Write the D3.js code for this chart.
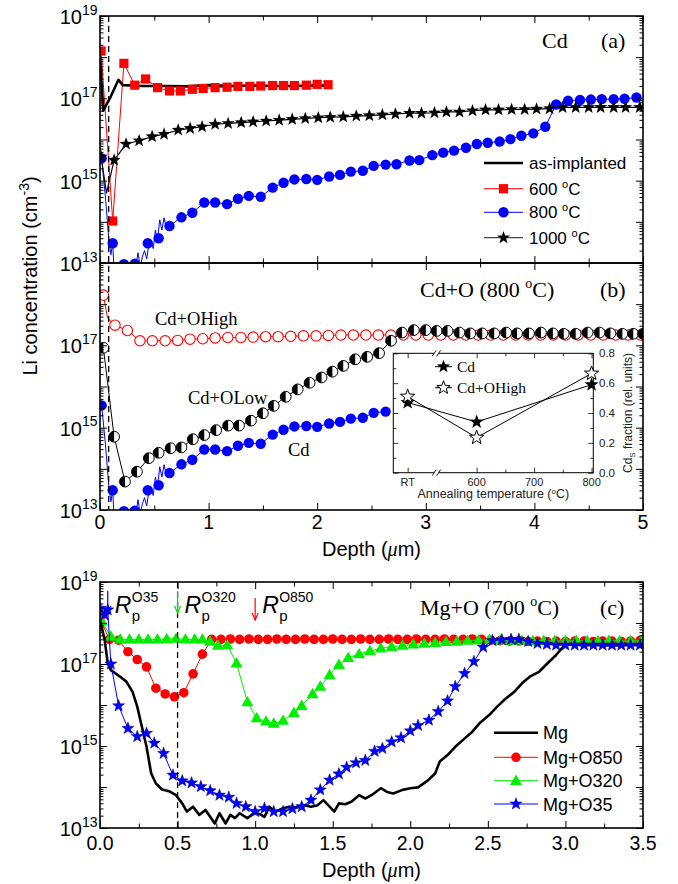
<!DOCTYPE html>
<html><head><meta charset="utf-8">
<script src="https://cdn.jsdelivr.net/npm/d3@7"></script>
<style>body{margin:0;background:#fff}</style>
</head><body>
<script>
// ===== DATA (depth in µm, value = log10 of Li concentration in cm^-3) =====
// Panel (a): Cd implanted
const cdAsImplanted = [[0,18.0],[0.03,16.7],[0.1,17.05],[0.17,17.45],[0.21,17.32],[0.4,17.3],[0.6,17.3],[0.8,17.29],[1.0,17.32],[1.2,17.3],[1.4,17.31],[1.6,17.3],[1.8,17.3],[2.0,17.31],[2.12,17.3]];
const cd600 = [[0.01,18.15],[0.117,14.02],[0.22,17.85],[0.32,17.32],[0.42,17.47],[0.53,17.26],[0.64,17.18],[0.74,17.18],[0.85,17.22],[0.95,17.24],[1.06,17.26],[1.17,17.27],[1.27,17.29],[1.38,17.29],[1.48,17.3],[1.59,17.31],[1.69,17.31],[1.79,17.31],[1.9,17.32],[2.0,17.34],[2.1,17.33]];
const cd800Raw = [[0.015,15.54],[0.05,14.6],[0.08,13.6],[0.1,13.2],[0.117,13.48],[0.13,12.8],[0.15,12.95],[0.17,12.7],[0.19,13.02],[0.21,12.8],[0.23,12.92],[0.25,12.75],[0.27,12.95],[0.29,12.8],[0.31,13.02],[0.33,12.9],[0.35,13.25],[0.37,12.9],[0.39,13.15],[0.41,13.3],[0.43,13.1],[0.45,13.45],[0.47,13.55],[0.49,13.35],[0.51,13.8],[0.53,13.55],[0.55,14.05],[0.57,13.8],[0.59,14.1],[0.61,13.85],[0.64,13.9]];
const cd800 = [[0.015,15.54],[0.117,13.48],[0.22,12.97],[0.32,12.98],[0.44,13.48],[0.54,13.6],[0.64,13.9],[0.75,14.11],[0.85,14.22],[0.96,14.47],[1.06,14.47],[1.17,14.43],[1.27,14.56],[1.37,14.63],[1.48,14.61],[1.59,14.83],[1.69,14.95],[1.79,15.03],[1.9,15.04],[2.0,15.02],[2.11,15.1],[2.21,15.14],[2.31,15.22],[2.42,15.24],[2.52,15.36],[2.63,15.39],[2.73,15.4],[2.85,15.49],[2.94,15.5],[3.06,15.62],[3.16,15.68],[3.26,15.73],[3.37,15.8],[3.47,15.89],[3.57,15.92],[3.68,15.95],[3.78,16.01],[3.88,16.09],[3.99,16.15],[4.1,16.31],[4.2,16.85],[4.31,16.94],[4.42,16.96],[4.52,16.97],[4.62,16.98],[4.73,16.98],[4.83,16.99],[4.94,17.02]];
const cd1000Dip = [0.06,14.7];
const cd1000 = [[0.01,15.58],[0.13,15.5],[0.24,15.89],[0.36,15.97],[0.48,16.07],[0.59,16.13],[0.72,16.23],[0.83,16.27],[0.94,16.31],[1.06,16.37],[1.18,16.39],[1.3,16.41],[1.41,16.43],[1.53,16.45],[1.65,16.47],[1.77,16.49],[1.89,16.51],[2.01,16.53],[2.12,16.54],[2.24,16.55],[2.36,16.57],[2.48,16.58],[2.6,16.6],[2.72,16.62],[2.85,16.64],[2.96,16.64],[3.08,16.65],[3.19,16.67],[3.31,16.67],[3.43,16.7],[3.55,16.72],[3.67,16.72],[3.79,16.73],[3.91,16.73],[4.02,16.74],[4.14,16.75],[4.26,16.78],[4.38,16.78],[4.5,16.78],[4.61,16.78],[4.73,16.78],[4.84,16.78],[4.97,16.78]];
// Panel (b): Cd+O, 800 C
const cdOHighKink = [0.07,17.66];
const cdOHigh = [[0.031,18.22],[0.138,17.49],[0.252,17.36],[0.368,17.11],[0.482,17.11],[0.6,17.11],[0.715,17.12],[0.829,17.15],[0.946,17.16],[1.06,17.18],[1.177,17.19],[1.297,17.19],[1.41,17.2],[1.525,17.21],[1.64,17.21],[1.756,17.22],[1.873,17.23],[1.99,17.23],[2.103,17.24],[2.218,17.25],[2.333,17.25],[2.448,17.25],[2.563,17.25],[2.678,17.25],[2.793,17.25],[2.908,17.25],[3.023,17.25],[3.138,17.25],[3.253,17.25],[3.368,17.25],[3.483,17.25],[3.598,17.25],[3.713,17.25],[3.828,17.25],[3.943,17.25],[4.058,17.25],[4.173,17.25],[4.288,17.25],[4.403,17.25],[4.518,17.25],[4.633,17.25],[4.748,17.25],[4.863,17.25],[4.978,17.25]];
const cdOLow = [[0.031,16.94],[0.13,14.78],[0.23,13.69],[0.34,13.93],[0.45,14.26],[0.54,14.39],[0.65,14.5],[0.75,14.52],[0.855,14.72],[0.96,14.82],[1.07,14.94],[1.18,15.05],[1.28,15.05],[1.39,15.17],[1.5,15.35],[1.6,15.53],[1.71,15.75],[1.82,15.93],[1.93,16.09],[2.04,16.22],[2.14,16.36],[2.24,16.5],[2.35,16.66],[2.46,16.72],[2.57,16.81],[2.68,17.11],[2.78,17.31],[2.89,17.37],[3.0,17.37],[3.1,17.35],[3.2,17.35],[3.31,17.31],[3.41,17.29],[3.52,17.29],[3.63,17.29],[3.74,17.31],[3.84,17.29],[3.95,17.29],[4.06,17.31],[4.17,17.29],[4.27,17.28],[4.38,17.28],[4.49,17.31],[4.6,17.31],[4.7,17.29],[4.81,17.28],[4.91,17.28],[5.0,17.28]];
const cdMaxDepthB = 2.64;
// Inset: Cd_S fraction
const insetCats = ["RT","600","800"];
const insetPos = [480,600,800];
const insetCd = [0.47,0.34,0.59];
const insetCdOHigh = [0.51,0.235,0.665];
const insetTickLabels = ["RT","600","700","800"];
const insetTickPos = [480,600,700,800];
// Panel (c): Mg+O, 700 C
const mgLine = [[0,18.07],[0.03,17.59],[0.05,17.02],[0.07,16.85],[0.13,16.69],[0.17,16.57],[0.21,16.32],[0.24,15.96],[0.27,15.47],[0.3,14.98],[0.33,14.33],[0.36,14.09],[0.4,13.94],[0.45,13.89],[0.49,13.8],[0.53,13.6],[0.56,13.4],[0.6,13.52],[0.64,13.32],[0.68,13.44],[0.74,13.11],[0.77,13.36],[0.81,13.11],[0.84,13.32],[0.87,13.24],[0.9,13.36],[0.95,13.24],[0.99,13.36],[1.03,13.34],[1.06,13.27],[1.09,13.52],[1.13,13.4],[1.18,13.48],[1.22,13.52],[1.27,13.5],[1.31,13.56],[1.36,13.52],[1.4,13.55],[1.44,13.68],[1.48,13.52],[1.51,13.4],[1.54,13.6],[1.58,13.58],[1.62,13.64],[1.67,13.8],[1.71,13.72],[1.75,13.8],[1.81,13.97],[1.85,13.88],[1.89,13.84],[1.95,13.93],[2.0,13.97],[2.05,13.99],[2.11,14.15],[2.16,14.33],[2.19,14.62],[2.24,14.78],[2.29,14.98],[2.34,15.15],[2.4,15.35],[2.45,15.57],[2.51,15.76],[2.56,15.96],[2.61,16.14],[2.67,16.32],[2.72,16.53],[2.77,16.69],[2.83,16.81],[2.88,17.0],[2.94,17.22],[2.99,17.44],[3.02,17.48],[3.1,17.46],[3.2,17.46],[3.3,17.45],[3.4,17.46],[3.5,17.46]];
const mgO850 = [[0,18.11],[0.06,17.6],[0.12,17.58],[0.18,17.3],[0.24,17.11],[0.3,16.93],[0.36,16.41],[0.42,16.27],[0.48,16.2],[0.54,16.3],[0.6,16.76],[0.66,17.24],[0.72,17.6],[0.78,17.6],[0.84,17.61],[0.9,17.6],[0.96,17.61],[1.02,17.6],[1.08,17.6],[1.14,17.61],[1.2,17.6],[1.26,17.6],[1.32,17.61],[1.38,17.6],[1.44,17.6],[1.5,17.61],[1.56,17.6],[1.62,17.6],[1.68,17.61],[1.74,17.6],[1.8,17.6],[1.86,17.61],[1.92,17.6],[1.98,17.6],[2.04,17.61],[2.1,17.6],[2.16,17.6],[2.22,17.61],[2.28,17.6],[2.34,17.6],[2.4,17.61],[2.46,17.6],[2.52,17.58],[2.58,17.57],[2.64,17.56],[2.7,17.56],[2.76,17.55],[2.82,17.56],[2.88,17.55],[2.94,17.56],[3.0,17.55],[3.06,17.56],[3.12,17.56],[3.18,17.55],[3.24,17.56],[3.3,17.56],[3.36,17.55],[3.42,17.56],[3.48,17.57]];
const mgO320 = [[0.01,18.05],[0.07,17.67],[0.13,17.6],[0.19,17.6],[0.25,17.6],[0.31,17.6],[0.37,17.6],[0.43,17.61],[0.49,17.62],[0.55,17.6],[0.61,17.6],[0.66,17.6],[0.71,17.55],[0.76,17.45],[0.82,17.46],[0.88,17.02],[0.95,16.07],[1.01,15.68],[1.07,15.6],[1.12,15.55],[1.18,15.62],[1.25,15.81],[1.3,15.98],[1.37,16.27],[1.42,16.45],[1.48,16.73],[1.54,16.98],[1.6,17.15],[1.67,17.24],[1.74,17.32],[1.81,17.38],[1.88,17.42],[1.95,17.45],[2.02,17.48],[2.09,17.5],[2.16,17.52],[2.23,17.54],[2.3,17.55],[2.37,17.57],[2.44,17.58],[2.51,17.59],[2.58,17.58],[2.65,17.57],[2.72,17.57],[2.79,17.56],[2.86,17.57],[2.93,17.56],[3.0,17.56],[3.07,17.57],[3.14,17.56],[3.21,17.56],[3.28,17.57],[3.35,17.56],[3.42,17.56],[3.49,17.57]];
const mgO35 = [[0,18.36],[0.03,18.2],[0.05,18.32],[0.07,17.0],[0.12,15.98],[0.18,15.43],[0.24,15.23],[0.3,15.31],[0.35,15.07],[0.41,14.82],[0.47,14.29],[0.53,14.15],[0.59,14.1],[0.65,14.01],[0.71,13.91],[0.77,13.8],[0.83,13.75],[0.88,13.6],[0.94,13.52],[1.0,13.4],[1.06,13.48],[1.12,13.4],[1.18,13.4],[1.24,13.47],[1.3,13.52],[1.36,13.68],[1.42,13.93],[1.48,14.17],[1.54,14.32],[1.59,14.48],[1.65,14.59],[1.71,14.65],[1.77,14.87],[1.82,14.94],[1.88,15.1],[1.94,15.2],[2.0,15.37],[2.05,15.5],[2.12,15.63],[2.18,15.84],[2.24,16.1],[2.29,16.45],[2.35,16.77],[2.41,17.06],[2.47,17.41],[2.53,17.57],[2.59,17.59],[2.65,17.6],[2.7,17.6],[2.76,17.55],[2.82,17.5],[2.88,17.48],[2.94,17.46],[3.0,17.46],[3.06,17.46],[3.12,17.46],[3.18,17.46],[3.24,17.46],[3.3,17.46],[3.36,17.46],[3.42,17.46],[3.48,17.46]];
const rpDepths = [0.05,0.5,1.0];
const rpLabels = ["O35","O320","O850"];
const rpColors = ["#0000ff","#00dd00","#ff0000"];
const dashDepthAB = 0.08, dashDepthC = 0.5;
const xTicksAB = [0,1,2,3,4,5];
const xTicksC = [0,0.5,1,1.5,2,2.5,3,3.5];
const yLabelExps = [13,15,17,19];

// ===== SETUP =====
const W=678,H=884;
const SANS="'Liberation Sans', Arial, Helvetica, sans-serif";
const SERIF="'Liberation Serif','Times New Roman', serif";
const RED="#ff0000", BLUE="#0000ff", GREEN="#00ee00";
const svg=d3.select("body").append("svg").attr("width",W).attr("height",H).style("background","#fff");
const P=v=>Math.pow(10,v);

const xAB=d3.scaleLinear().domain([0,5]).range([100,643]);
const xC=d3.scaleLinear().domain([0,3.5]).range([100,643]);
const yA=d3.scaleLog().domain([1e13,1e19]).range([263,16]);
const yB=d3.scaleLog().domain([1e13,1e19]).range([510,263]);
const yC=d3.scaleLog().domain([1e13,1e19]).range([828,582]);

const defs=svg.append("defs");
function clip(id,x,y,w,h){defs.append("clipPath").attr("id",id).append("rect").attr("x",x).attr("y",y).attr("width",w).attr("height",h);}
clip("cA",100,16,543,247); clip("cB",100,263,543,247); clip("cC",100,582,543,246);

function starPath(R,r){let p="";for(let i=0;i<10;i++){const a=-Math.PI/2+i*Math.PI/5;const rad=i%2?r:R;p+=(i?"L":"M")+(rad*Math.cos(a)).toFixed(2)+","+(rad*Math.sin(a)).toFixed(2);}return p+"Z";}
const triPath="M0,-6.2L6,4.2L-6,4.2Z";

function line(g,data,x,y,color,w){
  g.append("path").datum(data).attr("fill","none").attr("stroke",color).attr("stroke-width",w).attr("stroke-linejoin","round")
   .attr("d",d3.line().x(d=>x(d[0])).y(d=>y(P(d[1]))));
}
function marks(g,data,x,y,kind){
  const s=g.selectAll(null).data(data).enter();
  if(kind==="square") s.append("rect").attr("x",d=>x(d[0])-4.6).attr("y",d=>y(P(d[1]))-4.6).attr("width",9.2).attr("height",9.2).attr("fill",RED);
  if(kind==="bcircle") s.append("circle").attr("cx",d=>x(d[0])).attr("cy",d=>y(P(d[1]))).attr("r",5.2).attr("fill",BLUE);
  if(kind==="rcircle") s.append("circle").attr("cx",d=>x(d[0])).attr("cy",d=>y(P(d[1]))).attr("r",4.8).attr("fill",RED);
  if(kind==="star") s.append("path").attr("transform",d=>`translate(${x(d[0])},${y(P(d[1]))})`).attr("d",starPath(6.8,2.8)).attr("fill","#000");
  if(kind==="bstar") s.append("path").attr("transform",d=>`translate(${x(d[0])},${y(P(d[1]))})`).attr("d",starPath(6.3,2.6)).attr("fill",BLUE).attr("stroke","#000080").attr("stroke-width",0.5);
  if(kind==="tri") s.append("path").attr("transform",d=>`translate(${x(d[0])},${y(P(d[1]))})`).attr("d",triPath).attr("fill",GREEN);
  if(kind==="open") s.append("circle").attr("cx",d=>x(d[0])).attr("cy",d=>y(P(d[1]))).attr("r",5.2).attr("fill","#fff").attr("stroke",RED).attr("stroke-width",1.1);
  if(kind==="half"){
    const gg=s.append("g").attr("transform",d=>`translate(${x(d[0])},${y(P(d[1]))})`);
    gg.append("circle").attr("r",5.4).attr("fill","#fff").attr("stroke","#000").attr("stroke-width",1);
    gg.append("path").attr("d","M0,-5.4A5.4,5.4 0 0,0 0,5.4Z").attr("fill","#000");
  }
}

// ===== AXES HELPERS =====
function logTicks(){const maj=[],min=[];for(let e=13;e<=19;e++){maj.push(P(e));if(e<19)for(let k=2;k<=9;k++)min.push(k*P(e));}return {maj,min};}
const LT=logTicks();
function yAxes(y){
  const g=svg.append("g").attr("class","yax");
  g.append("g").attr("transform","translate(100,0)").call(d3.axisLeft(y).tickValues(LT.maj).tickSize(-7).tickFormat(""));
  g.append("g").attr("transform","translate(100,0)").call(d3.axisLeft(y).tickValues(LT.min).tickSize(-3.5).tickFormat(""));
  g.append("g").attr("transform","translate(643,0)").call(d3.axisRight(y).tickValues(LT.maj).tickSize(-7).tickFormat(""));
  g.append("g").attr("transform","translate(643,0)").call(d3.axisRight(y).tickValues(LT.min).tickSize(-3.5).tickFormat(""));
  g.selectAll(".domain").remove();
}
function xAxes(x,yTop,yBot,maj,min){
  const g=svg.append("g");
  [[d3.axisBottom,yBot],[d3.axisTop,yTop]].forEach(([ax,yy])=>{
    g.append("g").attr("transform",`translate(0,${yy})`).call(ax(x).tickValues(maj).tickSize(-7).tickFormat(""));
    g.append("g").attr("transform",`translate(0,${yy})`).call(ax(x).tickValues(min).tickSize(-4.5).tickFormat(""));
  });
  g.selectAll(".domain").remove();
}
function yLabels(y,exps){
  exps.forEach(e=>{
    const yy=y(P(e));
    svg.append("text").attr("x",82).attr("y",yy+8).attr("text-anchor","end").attr("font-family",SANS).attr("font-size",20).text("10");
    svg.append("text").attr("x",82).attr("y",yy-1.5).attr("font-family",SANS).attr("font-size",14).text(String(e));
  });
}
function frame(x,y,w,h){svg.append("rect").attr("x",x).attr("y",y).attr("width",w).attr("height",h).attr("fill","none").attr("stroke","#000").attr("stroke-width",1.6);}
function supText(x,y,pre,sup,post,font,size,supSize,anchor){
  const t=svg.append("text").attr("x",x).attr("y",y).attr("font-family",font).attr("font-size",size);
  if(anchor) t.attr("text-anchor",anchor);
  t.append("tspan").text(pre);
  t.append("tspan").attr("dy",-size*0.42).attr("font-size",supSize).text(sup);
  t.append("tspan").attr("dy",size*0.42).text(post);
  return t;
}

// ===== PANEL A =====
const gA=svg.append("g").attr("clip-path","url(#cA)");
line(gA,cd800Raw.concat(cd800.filter(d=>d[0]>0.64)),xAB,yA,BLUE,1);
line(gA,[cd1000[0],cd1000Dip].concat(cd1000.slice(1)),xAB,yA,"#000",1.2);
line(gA,cd600,xAB,yA,RED,1);
line(gA,cdAsImplanted,xAB,yA,"#000",2.6);
marks(gA,cd800,xAB,yA,"bcircle");
marks(gA,cd1000,xAB,yA,"star");
marks(gA,cd600,xAB,yA,"square");

// ===== PANEL B =====
const gB=svg.append("g").attr("clip-path","url(#cB)");
const cdB=cd800.filter(d=>d[0]<=cdMaxDepthB);
line(gB,cd800Raw.concat(cdB.filter(d=>d[0]>0.64)),xAB,yB,BLUE,1);
line(gB,[cdOHigh[0],cdOHighKink].concat(cdOHigh.slice(1)),xAB,yB,RED,1);
marks(gB,cdOHigh,xAB,yB,"open");
line(gB,cdOLow,xAB,yB,"#000",1);
marks(gB,cdB,xAB,yB,"bcircle");
marks(gB,cdOLow,xAB,yB,"half");

// dashed line a/b
svg.append("line").attr("x1",xAB(dashDepthAB)).attr("x2",xAB(dashDepthAB)).attr("y1",16).attr("y2",510).attr("stroke","#000").attr("stroke-width",1.3).attr("stroke-dasharray","6,4");

yAxes(yA); yAxes(yB);
xAxes(xAB,16,263,xTicksAB,[0.5,1.5,2.5,3.5,4.5]);
xAxes(xAB,263,510,xTicksAB,[0.5,1.5,2.5,3.5,4.5]);
frame(100,16,543,247); frame(100,263,543,247);
yLabels(yA,yLabelExps);
yLabels(yB,[13,15,17]);
xTicksAB.forEach(v=>svg.append("text").attr("x",xAB(v)).attr("y",529).attr("text-anchor","middle").attr("font-family",SANS).attr("font-size",19.5).text(String(v)));
function depthTitle(y){
  const t=svg.append("text").attr("x",371.5).attr("y",y).attr("text-anchor","middle").attr("font-family",SANS).attr("font-size",20);
  t.append("tspan").text("Depth (");
  t.append("tspan").attr("font-family",SERIF).attr("font-style","italic").text("μ");
  t.append("tspan").text("m)");
}
depthTitle(556);
// y title
{
  const t=svg.append("text").attr("transform","translate(37,276) rotate(-90)").attr("text-anchor","middle").attr("font-family",SANS).attr("font-size",20);
  t.append("tspan").text("Li concentration (cm");
  t.append("tspan").attr("dy",-8).attr("font-size",14).text("-3");
  t.append("tspan").attr("dy",8).text(")");
}
// panel a labels
svg.append("text").attr("x",542).attr("y",48).attr("font-family",SERIF).attr("font-size",22).text("Cd");
svg.append("text").attr("x",601).attr("y",48).attr("font-family",SERIF).attr("font-size",22).text("(a)");
// legend a
{
  const lx1=484,lx2=523,mx=503.5,tx=529,rows=[163,188.7,212.3,237.7];
  const gL=svg.append("g");
  gL.append("line").attr("x1",lx1).attr("x2",lx2).attr("y1",rows[0]).attr("y2",rows[0]).attr("stroke","#000").attr("stroke-width",2.6);
  gL.append("line").attr("x1",lx1).attr("x2",lx2).attr("y1",rows[1]).attr("y2",rows[1]).attr("stroke",RED).attr("stroke-width",1);
  gL.append("rect").attr("x",mx-4.6).attr("y",rows[1]-4.6).attr("width",9.2).attr("height",9.2).attr("fill",RED);
  gL.append("line").attr("x1",lx1).attr("x2",lx2).attr("y1",rows[2]).attr("y2",rows[2]).attr("stroke",BLUE).attr("stroke-width",1);
  gL.append("circle").attr("cx",mx).attr("cy",rows[2]).attr("r",5.2).attr("fill",BLUE);
  gL.append("line").attr("x1",lx1).attr("x2",lx2).attr("y1",rows[3]).attr("y2",rows[3]).attr("stroke","#444").attr("stroke-width",1.2);
  gL.append("path").attr("transform",`translate(${mx},${rows[3]})`).attr("d",starPath(6.8,2.8)).attr("fill","#000");
  svg.append("text").attr("x",tx).attr("y",rows[0]+6).attr("font-family",SANS).attr("font-size",17).text("as-implanted");
  supText(tx,rows[1]+6,"600 ","o","C",SANS,17,11);
  supText(tx,rows[2]+6,"800 ","o","C",SANS,17,11);
  supText(tx,rows[3]+6,"1000 ","o","C",SANS,17,11);
}
// panel b labels
supText(420,297,"Cd+O (800 ","o","C)",SERIF,22,14);
svg.append("text").attr("x",600).attr("y",297).attr("font-family",SERIF).attr("font-size",22).text("(b)");
svg.append("text").attr("x",155).attr("y",325).attr("font-family",SERIF).attr("font-size",18.5).text("Cd+OHigh");
svg.append("text").attr("x",188).attr("y",404).attr("font-family",SERIF).attr("font-size",18.5).text("Cd+OLow");
svg.append("text").attr("x",288).attr("y",456).attr("font-family",SERIF).attr("font-size",18.5).text("Cd");

// ===== INSET =====
{
  const L=393.3,R=593.3,T=353.3,B=472.7;
  const xI=d3.scaleLinear().domain([455,803]).range([L,R]);
  const yI=d3.scaleLinear().domain([0,0.8]).range([B,T]);
  const g=svg.append("g");
  g.append("rect").attr("x",L).attr("y",T).attr("width",R-L).attr("height",B-T).attr("fill","#fff");
  const axG=g.append("g").attr("color","#000");
  axG.append("g").attr("transform",`translate(0,${B})`).call(d3.axisBottom(xI).tickValues(insetTickPos).tickSize(-5).tickFormat(""));
  axG.append("g").attr("transform",`translate(0,${B})`).call(d3.axisBottom(xI).tickValues([650,750]).tickSize(-3).tickFormat(""));
  axG.append("g").attr("transform",`translate(0,${T})`).call(d3.axisTop(xI).tickValues(insetTickPos).tickSize(-5).tickFormat(""));
  axG.append("g").attr("transform",`translate(0,${T})`).call(d3.axisTop(xI).tickValues([650,750]).tickSize(-3).tickFormat(""));
  axG.append("g").attr("transform",`translate(${L},0)`).call(d3.axisLeft(yI).tickValues([0,0.2,0.4,0.6,0.8]).tickSize(-5).tickFormat(""));
  axG.append("g").attr("transform",`translate(${L},0)`).call(d3.axisLeft(yI).tickValues([0.1,0.3,0.5,0.7]).tickSize(-3).tickFormat(""));
  axG.append("g").attr("transform",`translate(${R},0)`).call(d3.axisRight(yI).tickValues([0,0.2,0.4,0.6,0.8]).tickSize(-5).tickFormat(""));
  axG.append("g").attr("transform",`translate(${R},0)`).call(d3.axisRight(yI).tickValues([0.1,0.3,0.5,0.7]).tickSize(-3).tickFormat(""));
  axG.selectAll(".domain").remove();
  axG.selectAll("line").attr("stroke-width",0.8);
  g.append("rect").attr("x",L).attr("y",T).attr("width",R-L).attr("height",B-T).attr("fill","none").attr("stroke","#000").attr("stroke-width",1);
  // axis breaks
  const bx=xI(530);
  [T,B].forEach(yy=>{
    g.append("rect").attr("x",bx-2.5).attr("y",yy-2).attr("width",5).attr("height",4).attr("fill","#fff");
    [-2.2,2.2].forEach(o=>g.append("line").attr("x1",bx+o-2).attr("x2",bx+o+2).attr("y1",yy+3).attr("y2",yy-3).attr("stroke","#000").attr("stroke-width",0.9));
  });
  const lp=(vals)=>insetPos.map((p,i)=>[p,vals[i]]);
  const ln=d3.line().x(d=>xI(d[0])).y(d=>yI(d[1]));
  g.append("path").attr("d",ln(lp(insetCd))).attr("fill","none").attr("stroke","#000").attr("stroke-width",1);
  g.append("path").attr("d",ln(lp(insetCdOHigh))).attr("fill","none").attr("stroke","#000").attr("stroke-width",1);
  lp(insetCd).forEach(d=>g.append("path").attr("transform",`translate(${xI(d[0])},${yI(d[1])})`).attr("d",starPath(7.5,3.1)).attr("fill","#000"));
  lp(insetCdOHigh).forEach(d=>g.append("path").attr("transform",`translate(${xI(d[0])},${yI(d[1])})`).attr("d",starPath(7.5,3.1)).attr("fill","#fff").attr("stroke","#000").attr("stroke-width",1));
  // legend
  [[366.7,"#000","Cd"],[387.7,"#fff","Cd+OHigh"]].forEach(([yy,f,lab])=>{
    g.append("line").attr("x1",435).attr("x2",452).attr("y1",yy).attr("y2",yy).attr("stroke","#000").attr("stroke-width",1);
    g.append("path").attr("transform",`translate(443.5,${yy})`).attr("d",starPath(7,2.9)).attr("fill",f).attr("stroke","#000").attr("stroke-width",f==="#fff"?1:0);
    g.append("text").attr("x",457).attr("y",yy+5).attr("font-family",SERIF).attr("font-size",15.5).text(lab);
  });
  insetTickLabels.forEach((lab,i)=>g.append("text").attr("x",xI(insetTickPos[i])).attr("y",485.5).attr("text-anchor","middle").attr("font-family",SANS).attr("font-size",11).attr("fill","#222").text(lab));
  [0,0.2,0.4,0.6,0.8].forEach(v=>g.append("text").attr("x",599).attr("y",yI(v)+4).attr("font-family",SANS).attr("font-size",11.5).attr("fill","#222").text(v.toFixed(1)));
  const at=g.append("text").attr("x",493.3).attr("y",498).attr("text-anchor","middle").attr("font-family",SANS).attr("font-size",12.5).attr("fill","#222");
  at.append("tspan").text("Annealing temperature (");
  at.append("tspan").attr("dy",-4).attr("font-size",8).text("o");
  at.append("tspan").attr("dy",4).text("C)");
  const rt=g.append("text").attr("transform","translate(632,413) rotate(-90)").attr("text-anchor","middle").attr("font-family",SANS).attr("font-size",12).attr("fill","#222");
  rt.append("tspan").text("Cd");
  rt.append("tspan").attr("dy",3).attr("font-size",8).text("S");
  rt.append("tspan").attr("dy",-3).text(" fraction (rel. units)");
}

// ===== PANEL C =====
const gC=svg.append("g").attr("clip-path","url(#cC)");
line(gC,mgO850,xC,yC,RED,1);
marks(gC,mgO850,xC,yC,"rcircle");
line(gC,mgO320,xC,yC,GREEN,1);
marks(gC,mgO320,xC,yC,"tri");
line(gC,mgLine,xC,yC,"#000",2.6);
line(gC,mgO35,xC,yC,BLUE,1);
marks(gC,mgO35,xC,yC,"bstar");
svg.append("line").attr("x1",xC(dashDepthC)).attr("x2",xC(dashDepthC)).attr("y1",582).attr("y2",828).attr("stroke","#000").attr("stroke-width",1.3).attr("stroke-dasharray","6,4");
yAxes(yC);
xAxes(xC,582,828,xTicksC,[0.25,0.75,1.25,1.75,2.25,2.75,3.25]);
frame(100,582,543,246);
yLabels(yC,yLabelExps);
xTicksC.forEach(v=>svg.append("text").attr("x",xC(v)).attr("y",850).attr("text-anchor","middle").attr("font-family",SANS).attr("font-size",19.5).text(v.toFixed(1)));
depthTitle(877);
supText(420,615,"Mg+O (700 ","o","C)",SERIF,22,14);
svg.append("text").attr("x",600).attr("y",615).attr("font-family",SERIF).attr("font-size",22).text("(c)");
// Rp arrows
rpDepths.forEach((d,i)=>{
  const x=xC(d), c=rpColors[i];
  const y1=i===2?598:591, y2=i===2?620:613;
  svg.append("line").attr("x1",x).attr("x2",x).attr("y1",y1).attr("y2",y2).attr("stroke",c).attr("stroke-width",1.2);
  svg.append("path").attr("d",`M${x-3},${y2-7}L${x},${y2}L${x+3},${y2-7}`).attr("fill","none").attr("stroke",c).attr("stroke-width",1.2);
  const tx=x+7;
  svg.append("text").attr("x",tx).attr("y",613).attr("font-family",SANS).attr("font-style","italic").attr("font-size",23).text("R");
  svg.append("text").attr("x",tx+17).attr("y",621).attr("font-family",SANS).attr("font-size",15).text("p");
  svg.append("text").attr("x",tx+17).attr("y",602).attr("font-family",SANS).attr("font-size",14).text(rpLabels[i]);
});
// legend c
{
  const lx1=494,lx2=538,mx=516,tx=543,rows=[732.7,757.3,780.7,804];
  const names=["Mg","Mg+O850","Mg+O320","Mg+O35"];
  svg.append("line").attr("x1",lx1).attr("x2",lx2).attr("y1",rows[0]).attr("y2",rows[0]).attr("stroke","#000").attr("stroke-width",2.6);
  svg.append("line").attr("x1",lx1).attr("x2",lx2).attr("y1",rows[1]).attr("y2",rows[1]).attr("stroke",RED).attr("stroke-width",1);
  svg.append("circle").attr("cx",mx).attr("cy",rows[1]).attr("r",4.8).attr("fill",RED);
  svg.append("line").attr("x1",lx1).attr("x2",lx2).attr("y1",rows[2]).attr("y2",rows[2]).attr("stroke",GREEN).attr("stroke-width",1);
  svg.append("path").attr("transform",`translate(${mx},${rows[2]})`).attr("d",triPath).attr("fill",GREEN);
  svg.append("line").attr("x1",lx1).attr("x2",lx2).attr("y1",rows[3]).attr("y2",rows[3]).attr("stroke",BLUE).attr("stroke-width",1);
  svg.append("path").attr("transform",`translate(${mx},${rows[3]})`).attr("d",starPath(6.3,2.6)).attr("fill",BLUE).attr("stroke","#000080").attr("stroke-width",0.5);
  names.forEach((n,i)=>svg.append("text").attr("x",tx).attr("y",rows[i]+6.5).attr("font-family",SANS).attr("font-size",18).text(n));
}
</script>
</body></html>
